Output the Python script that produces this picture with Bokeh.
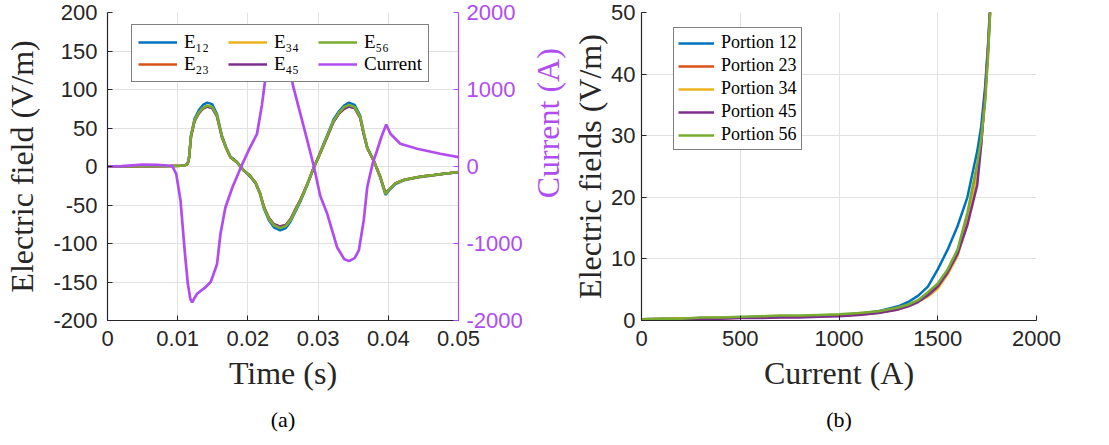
import math
from bokeh.plotting import figure
from bokeh.layouts import row
from bokeh.models import (Range1d, LinearAxis, FixedTicker, NumeralTickFormatter,
                          Legend, LegendItem, Title, Label)
from bokeh.embed import file_html
from bokeh.resources import INLINE

# ---------------- data: (a) fields and current vs time ----------------
t_field = [0.0, 0.005, 0.009, 0.0105, 0.011, 0.0114, 0.0116, 0.0119, 0.0124, 0.013,
           0.0136, 0.0142, 0.0149, 0.0156, 0.0163, 0.0169, 0.0175, 0.0184, 0.0194,
           0.0203, 0.0211, 0.0217, 0.0223, 0.0230, 0.0237, 0.0246, 0.0254, 0.0261,
           0.0268, 0.0275, 0.0285, 0.0294, 0.0301, 0.0308, 0.0315, 0.0322, 0.0330,
           0.0337, 0.0344, 0.0352, 0.0360, 0.0365, 0.0370, 0.0379, 0.0388, 0.0396,
           0.0401, 0.0410, 0.0422, 0.0432, 0.0447, 0.0465, 0.0482, 0.05]
E12 = [0, 0.3, 0.5, 1, 1.5, 3, 10, 41, 62, 73, 80, 83, 81, 68, 40, 25, 13, 6, -5,
       -13, -22, -35, -55, -70, -79, -83, -80, -71, -58, -45, -23, -1, 14, 30, 45,
       61, 72, 79, 83, 80, 66, 44, 25, 8, -13, -37, -31, -23, -18, -16, -13.5, -11.5,
       -9.2, -7.4]
E23 = [0, 0.3, 0.5, 1, 1.5, 3, 10, 39, 59, 69, 75, 78, 76, 65, 38, 24, 12, 6, -5,
       -12, -21, -34, -53, -67, -75, -78, -76, -68, -55, -43, -22, -1, 13, 28, 43,
       58, 69, 75, 78, 76, 63, 42, 24, 8, -12, -35, -30, -22, -17.5, -15.5, -13,
       -11, -9, -7.3]
E34 = [0, 0.3, 0.5, 1, 1.5, 3, 10, 39, 59, 70, 76, 79, 77, 66, 38, 24, 12, 6, -5,
       -12, -21, -34, -53, -68, -76, -79, -77, -69, -56, -43, -22, -1, 13, 28, 43,
       59, 70, 76, 79, 77, 64, 43, 24, 8, -12, -35, -30, -22, -17.5, -15.5, -13,
       -11, -9, -7.3]
E45 = [0, 0.3, 0.5, 1, 1.5, 3, 10, 39, 59, 69, 75, 78, 76, 65, 38, 24, 12, 6, -5,
       -12, -21, -34, -53, -67, -75, -78, -76, -68, -55, -43, -22, -1, 13, 28, 43,
       58, 69, 75, 78, 76, 63, 42, 24, 8, -12, -35, -30, -22, -17.5, -15.5, -13,
       -11, -9, -7.3]
E56 = [0, 0.3, 0.5, 1, 1.5, 3, 10, 40, 60, 70, 76, 79, 77, 66, 39, 24, 12, 6, -5,
       -12, -21, -34, -54, -68, -76, -80, -77, -69, -56, -44, -22, -1, 13, 29, 44,
       59, 70, 77, 80, 77, 64, 43, 24, 8, -12, -36, -30, -22, -17.5, -15.5, -13,
       -11, -9, -7.3]

t_current = [0.0, 0.002, 0.005, 0.007, 0.0092, 0.0098, 0.0104, 0.0110, 0.01144,
             0.0118, 0.01206, 0.0124, 0.0128, 0.0138, 0.0147, 0.0156, 0.0161,
             0.0168, 0.0178, 0.0190, 0.0201, 0.0213, 0.0220, 0.0225, 0.0233,
             0.0240, 0.0247, 0.0254, 0.0260, 0.0264, 0.0270, 0.0282, 0.0294,
             0.0303, 0.0313, 0.0327, 0.0337, 0.0344, 0.0352, 0.0358, 0.0365,
             0.0370, 0.0378, 0.0384, 0.0390, 0.0397, 0.0403, 0.0417, 0.0441,
             0.0474, 0.05]
current = [0, 5, 25, 20, 10, -100, -440, -1100, -1520, -1720, -1765, -1705, -1650,
           -1580, -1500, -1270, -870, -530, -270, -10, 210, 425, 800, 1150, 1480,
           1680, 1720, 1600, 1300, 1060, 850, 430, 0, -380, -614, -1048, -1200,
           -1229, -1190, -1090, -700, -268, 50, 208, 380, 545, 425, 295, 230, 165, 121]

# ---------------- data: (b) fields vs current ----------------
I_sweep = [0, 100, 200, 300, 400, 500, 600, 700, 800, 900, 1000, 1100, 1200, 1300,
           1350, 1400, 1450, 1500, 1550, 1600, 1650, 1700, 1720, 1740, 1755, 1768]
portion12 = [0.2, 0.3, 0.3, 0.4, 0.4, 0.5, 0.6, 0.7, 0.7, 0.8, 0.9, 1.1, 1.5, 2.3,
             3.0, 4.0, 5.5, 8.3, 11.5, 15.3, 20.0, 27.5, 31.5, 38.0, 45.0, 53.0]
portion23 = [0.2, 0.25, 0.3, 0.35, 0.4, 0.45, 0.5, 0.6, 0.6, 0.7, 0.8, 1.0, 1.3,
             1.9, 2.4, 3.2, 4.3, 5.6, 8.0, 11.0, 16.5, 24.0, 29.0, 36.5, 44.5, 52.0]
portion34 = [0.2, 0.25, 0.3, 0.35, 0.4, 0.45, 0.5, 0.55, 0.6, 0.7, 0.8, 0.95, 1.25,
             1.8, 2.3, 3.0, 3.9, 5.2, 7.5, 10.5, 15.8, 23.5, 29.0, 36.0, 44.0, 52.0]
portion45 = [0.1, 0.2, 0.2, 0.3, 0.3, 0.4, 0.4, 0.5, 0.5, 0.6, 0.7, 0.9, 1.2, 1.8,
             2.3, 3.0, 4.1, 5.5, 7.8, 10.8, 15.5, 22.0, 28.5, 37.0, 44.0, 52.0]
portion56 = [0.2, 0.3, 0.3, 0.5, 0.5, 0.6, 0.7, 0.8, 0.8, 0.9, 1.0, 1.2, 1.5, 2.1,
             2.6, 3.3, 4.6, 6.0, 8.3, 11.5, 17.5, 25.5, 29.5, 35.5, 43.0, 52.0]

field_labels = ["E\u2081\u2082", "E\u2082\u2083", "E\u2083\u2084", "E\u2084\u2085", "E\u2085\u2086"]
portion_labels = ["Portion 12", "Portion 23", "Portion 34", "Portion 45", "Portion 56"]
colors = ["#0072BD", "#D95319", "#EDB120", "#7E2F8E", "#77AC30"]
current_color = "#B04CF0"

SANS = "Liberation Sans"
SERIF = "Liberation Serif"
INK = "#262626"
GRID = "#E1E1E1"


def style_axis(ax, color=INK, standoff=10, label_standoff=8):
    ax.axis_line_color = color
    ax.axis_line_width = 1.2
    ax.major_tick_line_color = color
    ax.major_tick_in = 5
    ax.major_tick_out = 0
    ax.minor_tick_line_color = None
    ax.major_label_text_color = color
    ax.major_label_text_font = SANS
    ax.major_label_text_font_size = "22px"
    ax.major_label_standoff = standoff
    ax.axis_label_text_font = SERIF
    ax.axis_label_text_font_size = "32px"
    ax.axis_label_text_font_style = "normal"
    ax.axis_label_text_color = color
    ax.axis_label_standoff = label_standoff


# ---------------- figure (a) ----------------
p1 = figure(width=526, height=445, x_range=Range1d(0, 0.05), y_range=Range1d(-200, 200),
            output_backend="svg", toolbar_location=None,
            min_border_left=107, min_border_right=68, min_border_top=12, min_border_bottom=125)
p1.outline_line_color = None
p1.extra_y_ranges = {"cur": Range1d(-2000, 2000)}

xt1 = FixedTicker(ticks=[0, 0.01, 0.02, 0.03, 0.04, 0.05])
yt1 = FixedTicker(ticks=[-200, -150, -100, -50, 0, 50, 100, 150, 200])
p1.xaxis.ticker = xt1
p1.xaxis.formatter = NumeralTickFormatter(format="0.[00]")
p1.yaxis.ticker = yt1
p1.yaxis.formatter = NumeralTickFormatter(format="0")
p1.xaxis.axis_label = "Time (s)"
p1.yaxis.axis_label = "Electric field (V/m)"
style_axis(p1.xaxis[0], standoff=10, label_standoff=6)
style_axis(p1.yaxis[0], standoff=10, label_standoff=10)
p1.xgrid.ticker = xt1
p1.ygrid.ticker = yt1
p1.xgrid.grid_line_color = GRID
p1.ygrid.grid_line_color = GRID

rax = LinearAxis(y_range_name="cur",
                 ticker=FixedTicker(ticks=[-2000, -1000, 0, 1000, 2000]),
                 formatter=NumeralTickFormatter(format="0"))
style_axis(rax, color=current_color, standoff=8, label_standoff=6)
p1.add_layout(rax, "right")

items1 = []
for lab, col, ys in zip(field_labels, colors, [E12, E23, E34, E45, E56]):
    r = p1.line(t_field, ys, line_color=col, line_width=2.5)
    items1.append(LegendItem(label=lab, renderers=[r]))
rc = p1.line(t_current, current, line_color=current_color, line_width=2.7, y_range_name="cur")
items1.append(LegendItem(label="Current", renderers=[rc]))

leg1 = Legend(items=items1, location=(24, 238), nrows=2, orientation="vertical",
              label_text_font=SERIF, label_text_font_size="19px", label_text_color="#000000",
              glyph_width=39, glyph_height=20, label_height=20, label_width=44,
              label_standoff=7, spacing=0, padding=6, margin=0,
              border_line_color="#000000", border_line_width=1.2,
              background_fill_color="white", background_fill_alpha=1.0)
p1.add_layout(leg1, "center")
p1.add_layout(Title(text="(a)", align="center", text_font=SERIF, text_font_size="22px",
                    text_font_style="normal", text_color="#000000", standoff=22), "below")

# ---------------- strip holding the right-axis title of (a) ----------------
strip = figure(width=42, height=445, x_range=Range1d(0, 42), y_range=Range1d(0, 445),
               x_axis_type=None, y_axis_type=None, output_backend="svg",
               toolbar_location=None, min_border=0)
strip.outline_line_color = None
strip.grid.visible = False
strip.add_layout(Label(x=21, y=445 - 160, text="Current (A)", angle=math.pi / 2,
                       text_align="center", text_baseline="middle",
                       text_font=SERIF, text_font_size="32px", text_color=current_color))

# ---------------- figure (b) ----------------
p2 = figure(width=541, height=445, x_range=Range1d(0, 2000), y_range=Range1d(0, 50),
            output_backend="svg", toolbar_location=None,
            min_border_left=73, min_border_right=73, min_border_top=12, min_border_bottom=125)
p2.outline_line_color = None
xt2 = FixedTicker(ticks=[0, 500, 1000, 1500, 2000])
yt2 = FixedTicker(ticks=[0, 10, 20, 30, 40, 50])
p2.xaxis.ticker = xt2
p2.yaxis.ticker = yt2
p2.xaxis.formatter = NumeralTickFormatter(format="0")
p2.yaxis.formatter = NumeralTickFormatter(format="0")
p2.xaxis.axis_label = "Current (A)"
p2.yaxis.axis_label = "Electric fields (V/m)"
style_axis(p2.xaxis[0], standoff=10, label_standoff=6)
style_axis(p2.yaxis[0], standoff=6, label_standoff=0)
p2.xgrid.ticker = xt2
p2.ygrid.ticker = yt2
p2.xgrid.grid_line_color = GRID
p2.ygrid.grid_line_color = GRID

items2 = []
for lab, col, ys in zip(portion_labels, colors,
                        [portion12, portion23, portion34, portion45, portion56]):
    r = p2.line(I_sweep, ys, line_color=col, line_width=2.5)
    items2.append(LegendItem(label=lab, renderers=[r]))

leg2 = Legend(items=items2, location=(32, 170), orientation="vertical",
              label_text_font=SERIF, label_text_font_size="18px", label_text_color="#000000",
              glyph_width=36, glyph_height=20, label_height=20,
              label_standoff=7, spacing=2, padding=4, margin=0,
              border_line_color="#000000", border_line_width=1.2,
              background_fill_color="white", background_fill_alpha=1.0)
p2.add_layout(leg2, "center")
p2.add_layout(Title(text="(b)", align="center", text_font=SERIF, text_font_size="22px",
                    text_font_style="normal", text_color="#000000", standoff=22), "below")

layout = row(p1, strip, p2)
open("out.html", "w").write(file_html(layout, INLINE))
